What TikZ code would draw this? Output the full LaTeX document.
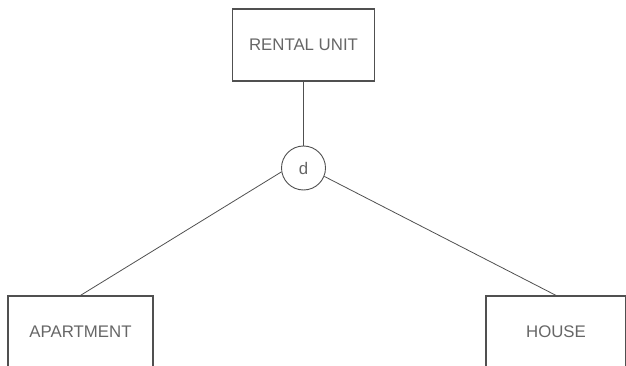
\documentclass[tikz,border=0pt]{standalone}
\usepackage{fontspec}
\setmainfont{Liberation Sans}
\usepackage{xcolor}
\usepackage{tikz}
\usetikzlibrary{
  positioning,
  calc
}
\definecolor{linegray}{HTML}{505050}
\definecolor{textgray}{HTML}{666666}
\tikzset{
  entity/.style={draw=linegray,line width=1.2pt,minimum width=142pt,minimum height=72pt,inner sep=0pt,
    text=textgray,font=\fontsize{16.8}{19}\selectfont},
  disjoint/.style={circle,draw=linegray,line width=0.9pt,minimum size=44pt,inner sep=0pt,
    text=textgray,font=\fontsize{16.8}{19}\selectfont},
  link/.style={draw=linegray,line width=0.8pt}
}

\begin{document}
\begin{tikzpicture}[x=1pt,y=-1pt]
  % 枠
  \useasboundingbox (0,0) rectangle (626,366);
  \clip (0,0) rectangle (626,366);
  % 実体
  \node[entity] (rental) at (303.5,45) {RENTAL UNIT}; %上位
  \node[disjoint] (d) at (303.5,168) {d}; %分離
  \node[entity,minimum width=145pt] (apartment) at (80.5,332) {APARTMENT}; %左
  \node[entity,minimum width=140pt] (house) at (556,332) {HOUSE}; %右
  % 線
  \draw[link] (rental.south) -- (d.north);
  \draw[link] (d.190) -- (apartment.north);
  \draw[link] (d.-22) -- (house.north);
\end{tikzpicture}
\end{document}
